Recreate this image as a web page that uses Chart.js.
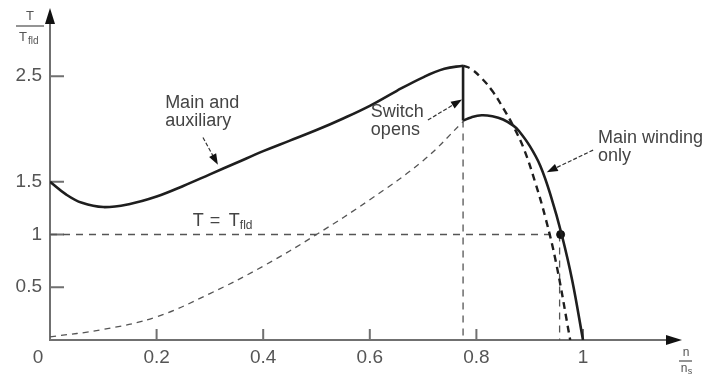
<!DOCTYPE html>
<html>
<head>
<meta charset="utf-8">
<script src="https://cdn.jsdelivr.net/npm/chart.js@4.4.1/dist/chart.umd.min.js"></script>
<style>
  html, body { margin: 0; padding: 0; background: #fff; }
  #wrap { width: 710px; height: 379px; }
</style>
</head>
<body>
<div id="wrap"><canvas id="torqueChart" width="710" height="379"></canvas></div>
<script>
// speed ratio n/ns and torque ratio T/Tfld
const bothSpeed  = [0, 0.03, 0.06, 0.1, 0.15, 0.2, 0.25, 0.3, 0.35, 0.4, 0.45, 0.5, 0.55, 0.6, 0.65, 0.7, 0.74, 0.775];
const bothTorque = [1.5, 1.38, 1.3, 1.26, 1.29, 1.36, 1.46, 1.57, 1.68, 1.79, 1.89, 1.99, 2.1, 2.22, 2.36, 2.49, 2.57, 2.6];

// main + auxiliary curve if the switch stayed closed (dashed)
const bothOnSpeed  = [0.775, 0.79, 0.81, 0.83, 0.85, 0.87, 0.89, 0.91, 0.93, 0.95, 0.976];
const bothOnTorque = [2.6, 2.57, 2.48, 2.36, 2.2, 2.02, 1.8, 1.5, 1.15, 0.72, 0];

// switch opening step
const switchSpeed  = [0.775, 0.775];
const switchTorque = [2.6, 2.08];

// main winding only, after the switch (solid)
const mainSpeed  = [0.775, 0.79, 0.81, 0.83, 0.85, 0.87, 0.88, 0.9, 0.92, 0.94, 0.96, 0.98, 1.0];
const mainTorque = [2.08, 2.11, 2.13, 2.12, 2.09, 2.03, 1.98, 1.84, 1.65, 1.36, 1.0, 0.56, 0];

// main winding alone at low speed (thin dashed)
const lowSpeed  = [0, 0.1, 0.2, 0.3, 0.4, 0.5, 0.6, 0.7, 0.775];
const lowTorque = [0.03, 0.1, 0.22, 0.44, 0.7, 1.0, 1.33, 1.7, 2.07];

// guide lines
const ratedSpeed = 0.958;
const ratedTorque = 1;

const xTicks = [0.2, 0.4, 0.6, 0.8, 1];
const yTicks = [0.5, 1, 1.5, 2.5];

const pts = (xs, ys) => xs.map((v, i) => ({ x: v, y: ys[i] }));

const figurePlugin = {
    id: 'figure',
    beforeDatasetsDraw(chart) {
        const { ctx, scales: { x, y }, chartArea } = chart;
        const x0 = x.getPixelForValue(0);
        const y0 = y.getPixelForValue(0);
        ctx.save();
        ctx.strokeStyle = '#707070';
        ctx.lineWidth = 2;
        ctx.beginPath();
        ctx.moveTo(x0, y0 + 1); ctx.lineTo(x0, chartArea.top + 8);
        ctx.moveTo(x0 - 1, y0); ctx.lineTo(chartArea.right - 8, y0);
        // tick marks point inwards
        yTicks.forEach(v => {
            const py = y.getPixelForValue(v);
            ctx.moveTo(x0, py); ctx.lineTo(x0 + 14, py);
        });
        xTicks.forEach(v => {
            const px = x.getPixelForValue(v);
            ctx.moveTo(px, y0); ctx.lineTo(px, y0 - 11);
        });
        ctx.stroke();

        // axis arrows
        ctx.fillStyle = '#111';
        ctx.beginPath();
        ctx.moveTo(x0, chartArea.top - 2);
        ctx.lineTo(x0 - 5, chartArea.top + 14);
        ctx.lineTo(x0 + 5, chartArea.top + 14);
        ctx.closePath(); ctx.fill();
        ctx.beginPath();
        ctx.moveTo(chartArea.right + 2, y0);
        ctx.lineTo(chartArea.right - 14, y0 - 5);
        ctx.lineTo(chartArea.right - 14, y0 + 5);
        ctx.closePath(); ctx.fill();

        // tick labels
        ctx.fillStyle = '#555';
        ctx.font = '19px "Liberation Sans", Arial, sans-serif';
        ctx.textBaseline = 'middle';
        ctx.textAlign = 'right';
        yTicks.forEach(v => ctx.fillText(String(v), x0 - 8, y.getPixelForValue(v)));
        ctx.textAlign = 'center';
        xTicks.forEach(v => ctx.fillText(String(v), x.getPixelForValue(v), y0 + 18));
        ctx.fillText('0', x0 - 12, y0 + 18);

        // axis titles
        ctx.font = '13px "Liberation Sans", Arial, sans-serif';
        ctx.fillText('T', x0 - 20, chartArea.top + 6);
        ctx.lineWidth = 1.5;
        ctx.beginPath();
        ctx.moveTo(x0 - 34, chartArea.top + 16); ctx.lineTo(x0 - 6, chartArea.top + 16);
        ctx.stroke();
        ctx.textAlign = 'left';
        ctx.fillText('T', x0 - 31, chartArea.top + 27);
        ctx.font = '10px "Liberation Sans", Arial, sans-serif';
        ctx.fillText('fld', x0 - 22, chartArea.top + 31);

        const xr = chartArea.right;
        ctx.font = '12px "Liberation Sans", Arial, sans-serif';
        ctx.textAlign = 'center';
        ctx.fillText('n', xr + 6, y0 + 13);
        ctx.beginPath();
        ctx.moveTo(xr - 1, y0 + 21); ctx.lineTo(xr + 12, y0 + 21);
        ctx.stroke();
        ctx.fillText('n', xr + 4, y0 + 29);
        ctx.font = '9px "Liberation Sans", Arial, sans-serif';
        ctx.fillText('s', xr + 10, y0 + 32);

        // guide lines T = Tfld and the speed markers
        ctx.strokeStyle = '#555';
        ctx.lineWidth = 1.3;
        ctx.setLineDash([7, 6]);
        ctx.beginPath();
        ctx.moveTo(x0, y.getPixelForValue(ratedTorque));
        ctx.lineTo(x.getPixelForValue(ratedSpeed), y.getPixelForValue(ratedTorque));
        ctx.moveTo(x.getPixelForValue(switchSpeed[1]), y.getPixelForValue(switchTorque[1]));
        ctx.lineTo(x.getPixelForValue(switchSpeed[1]), y0);
        ctx.moveTo(x.getPixelForValue(ratedSpeed) - 1, y.getPixelForValue(ratedTorque));
        ctx.lineTo(x.getPixelForValue(ratedSpeed) - 1, y0);
        ctx.stroke();
        ctx.restore();
    },
    afterDraw(chart) {
        const { ctx, scales: { x, y } } = chart;
        const P = (a, b) => [x.getPixelForValue(a), y.getPixelForValue(b)];
        ctx.save();
        ctx.fillStyle = '#444';
        ctx.font = '18px "Liberation Sans", Arial, sans-serif';
        ctx.textBaseline = 'middle';
        ctx.textAlign = 'left';

        const label = (lines, ax, ay) => {
            const [px, py] = P(ax, ay);
            lines.forEach((t, i) => ctx.fillText(t, px, py + i * 18));
        };
        label(['Main and', 'auxiliary'], 0.216, 2.25);
        label(['Switch', 'opens'], 0.602, 2.16);
        label(['Main winding', 'only'], 1.028, 1.915);

        // T = Tfld
        let [tx, ty] = P(0.268, 1.13);
        ctx.fillText('T', tx, ty);
        ctx.fillText('=', tx + 17, ty);
        ctx.fillText('T', tx + 36, ty);
        ctx.font = '12px "Liberation Sans", Arial, sans-serif';
        ctx.fillText('fld', tx + 47, ty + 5);

        const arrow = (fx, fy, toX, toY) => {
            const [ax, ay] = P(fx, fy);
            const [bx, by] = P(toX, toY);
            const ang = Math.atan2(by - ay, bx - ax);
            ctx.strokeStyle = '#333';
            ctx.lineWidth = 1.2;
            ctx.setLineDash([4, 2]);
            ctx.beginPath();
            ctx.moveTo(ax, ay);
            ctx.lineTo(bx - 8 * Math.cos(ang), by - 8 * Math.sin(ang));
            ctx.stroke();
            ctx.setLineDash([]);
            ctx.fillStyle = '#111';
            ctx.beginPath();
            ctx.moveTo(bx, by);
            ctx.lineTo(bx - 11 * Math.cos(ang) + 4 * Math.sin(ang), by - 11 * Math.sin(ang) - 4 * Math.cos(ang));
            ctx.lineTo(bx - 11 * Math.cos(ang) - 4 * Math.sin(ang), by - 11 * Math.sin(ang) + 4 * Math.cos(ang));
            ctx.closePath();
            ctx.fill();
        };
        arrow(0.287, 1.92, 0.315, 1.66);
        arrow(0.709, 2.085, 0.773, 2.28);
        arrow(1.019, 1.80, 0.932, 1.59);
        ctx.restore();
    }
};

const solid = { borderColor: '#1e1e1e', borderWidth: 2.6, pointRadius: 0, fill: false, tension: 0.4 };

new Chart(document.getElementById('torqueChart'), {
    type: 'line',
    data: {
        datasets: [
            { ...solid, data: pts(bothSpeed, bothTorque) },
            { ...solid, data: pts(switchSpeed, switchTorque), tension: 0 },
            { ...solid, data: pts(mainSpeed, mainTorque) },
            { ...solid, data: pts(bothOnSpeed, bothOnTorque), borderDash: [7, 5], borderWidth: 2.4 },
            { ...solid, data: pts(lowSpeed, lowTorque), borderDash: [6, 5], borderWidth: 1.3, borderColor: '#555' },
            { data: [{ x: ratedSpeed, y: ratedTorque }], showLine: false, pointRadius: 4, pointBackgroundColor: '#111', pointBorderColor: '#111' }
        ]
    },
    options: {
        responsive: false,
        animation: false,
        layout: { padding: { left: 50, right: 30, top: 10, bottom: 39 } },
        plugins: { legend: { display: false }, tooltip: { enabled: false } },
        scales: {
            x: { type: 'linear', min: 0, max: 1.182, display: false },
            y: { type: 'linear', min: 0, max: 3.128, display: false }
        }
    },
    plugins: [figurePlugin]
});
</script>
</body>
</html>
